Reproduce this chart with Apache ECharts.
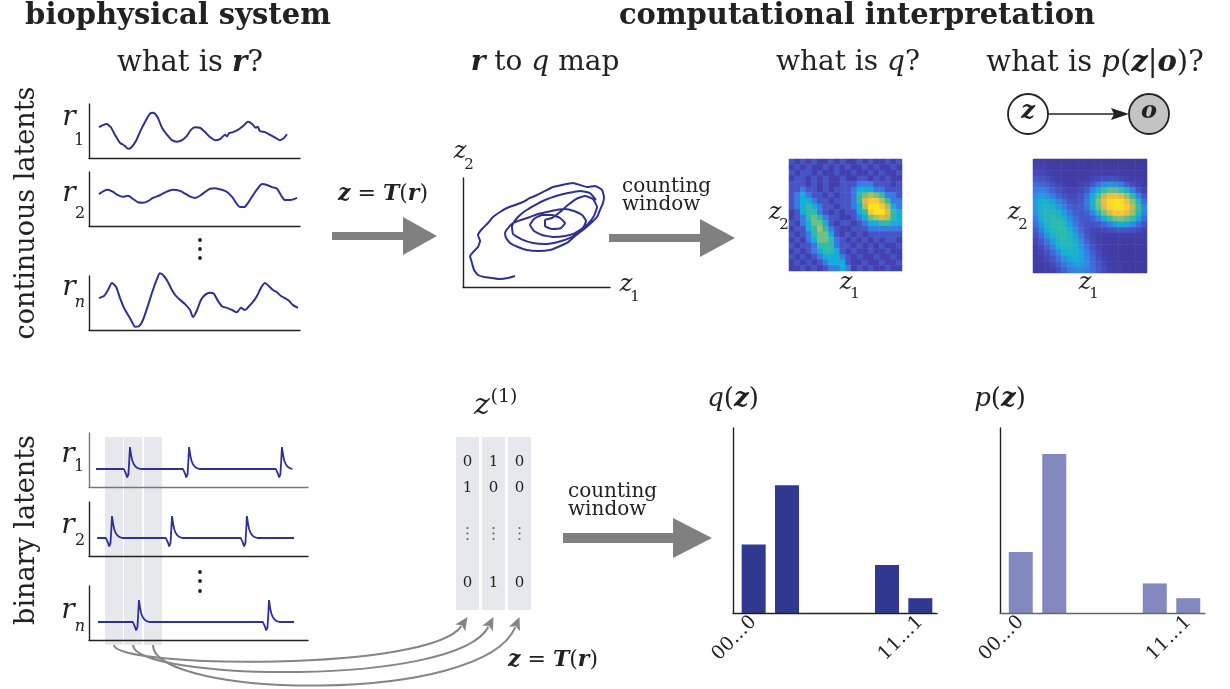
<!DOCTYPE html>
<html><head><meta charset="utf-8">
<script src="https://cdn.jsdelivr.net/npm/echarts@6/dist/echarts.min.js"></script>
<style>html,body{margin:0;padding:0;background:#fff}#c{width:1230px;height:689px}</style>
</head><body><div id="c"></div>
<script>
// ---------------- DATA ----------------
// continuous latents: time (0-100) vs activity (0-10)
const contR1 = [[4.7,5.7],[6.6,6.1],[8.5,6.3],[9.5,6.0],[10.4,5.7],[12.3,4.3],[14.7,2.8],[16.0,2.5],[17.1,2.2],[18.5,1.7],[19.9,1.9],[22.3,3.2],[24.6,5.2],[27.0,7.0],[28.9,8.2],[30.1,8.4],[31.3,8.2],[32.7,7.4],[34.6,5.6],[37.0,4.3],[39.3,3.3],[41.7,3.0],[44.1,3.3],[46.4,4.1],[48.3,5.2],[50.2,5.7],[52.6,5.6],[55.0,4.8],[57.3,3.9],[59.7,3.3],[62.1,3.5],[64.5,4.3],[65.4,4.0],[66.4,4.6],[68.2,4.8],[70.6,5.2],[73.0,5.9],[75.4,6.7],[77.3,6.3],[79.1,5.6],[80.0,5.8],[81.0,5.0],[83.4,4.8],[85.8,4.3],[88.6,3.7],[90.5,3.3],[92.4,3.7],[93.8,4.4]];
const contR2 = [[4.7,5.9],[7.1,6.5],[9.0,6.7],[11.4,6.3],[13.7,5.7],[16.1,5.4],[18.5,5.6],[20.9,5.0],[23.2,4.4],[25.6,4.3],[28.0,4.6],[30.3,5.2],[33.6,5.7],[36.5,6.3],[39.8,6.7],[43.1,6.5],[46.0,5.9],[48.3,5.4],[50.2,5.2],[52.6,5.6],[55.0,6.3],[57.3,6.9],[59.7,7.0],[63.0,6.7],[65.4,6.3],[67.8,5.4],[69.7,4.3],[71.6,3.5],[73.5,3.5],[75.4,4.3],[77.7,5.7],[80.1,7.0],[82.0,7.8],[84.4,7.6],[86.7,7.2],[89.1,6.9],[91.0,5.7],[92.9,4.8],[95.3,4.8],[98.6,5.2]];
const contRn = [[4.7,5.9],[7.1,6.3],[9.0,7.4],[10.9,8.7],[12.8,8.0],[14.7,5.9],[16.6,4.1],[18.5,2.8],[20.4,1.5],[21.8,0.6],[23.7,0.7],[25.6,1.9],[28.0,4.6],[30.3,7.4],[32.2,9.4],[33.6,10.5],[35.5,10.0],[37.4,8.9],[39.3,7.4],[41.2,6.3],[43.1,5.6],[45.5,4.8],[47.9,3.7],[49.3,2.4],[51.2,3.7],[53.1,5.6],[55.0,6.5],[57.3,6.9],[59.2,6.7],[61.1,5.4],[63.0,4.4],[65.4,4.1],[67.8,3.7],[70.1,3.3],[72.0,4.1],[73.9,3.7],[75.8,4.4],[77.7,5.2],[79.6,6.3],[81.5,7.8],[83.4,8.7],[85.3,8.1],[87.2,7.4],[89.1,7.0],[91.0,6.3],[92.9,5.9],[94.8,5.4],[96.7,4.6],[99.1,4.1]];
// r -> z trajectory (z1, z2 in 0-100 units)
const trajectory = [[35.4,10.1],[30.6,8.3],[25.2,7.3],[19.7,8.3],[14.3,9.2],[10.2,11.0],[7.5,15.6],[6.1,22.0],[4.8,28.4],[7.5,33.0],[10.2,36.7],[11.6,42.2],[10.2,47.7],[12.9,53.2],[17.0,58.7],[20.4,64.2],[25.2,68.8],[29.9,72.5],[35.4,75.2],[40.8,78.0],[45.6,81.7],[50.3,84.4],[55.8,88.1],[61.2,91.7],[67.3,93.6],[74.8,95.4],[79.6,93.6],[84.4,91.7],[89.8,92.7],[94.6,89.0],[95.9,82.6],[95.2,77.1],[93.2,70.6],[91.2,64.2],[87.1,58.7],[81.6,52.3],[76.2,46.8],[70.7,40.4],[64.6,36.7],[59.2,33.9],[51.0,33.0],[43.5,33.9],[37.4,36.7],[32.0,40.4],[29.3,45.0],[28.6,49.5],[30.6,54.1],[34.0,58.7],[39.5,61.5],[45.6,64.2],[51.0,67.0],[57.1,68.8],[63.3,70.6],[69.4,71.6],[75.5,69.7],[81.0,66.1],[83.7,60.6],[81.6,54.1],[76.2,49.5],[69.4,46.8],[61.2,45.9],[53.7,47.7],[48.3,51.4],[45.6,56.9],[48.3,62.4],[53.7,66.1],[60.5,66.1],[66.0,63.3],[69.4,58.7],[66.7,54.1],[60.5,53.2],[55.8,56.0],[55.8,61.5],[60.5,63.3],[66.0,68.8],[71.4,75.2],[76.9,80.7],[83.0,83.5],[88.4,80.7],[91.2,73.4],[89.1,65.1],[85.0,57.8],[79.6,51.4],[72.8,45.0],[64.6,41.3],[55.8,39.4],[47.6,40.4],[39.5,44.0],[34.0,48.6],[33.3,56.0],[36.7,63.3],[42.2,69.7],[49.0,75.2],[55.8,79.8],[63.3,83.5],[71.4,86.2],[79.6,88.1],[86.4,86.2],[90.5,79.8]];
// empirical q (20x20, rows top->bottom)
const qGrid = [
[2,1,2,1,2,1,1,2,1,2,1,1,2,1,2,1,1,2,1,2],
[1,2,1,2,1,1,2,1,2,1,2,1,1,2,1,2,1,1,2,1],
[2,1,2,2,1,2,1,1,2,1,1,2,1,1,2,1,2,1,1,2],
[1,2,2,1,2,1,2,1,1,2,1,1,2,2,1,2,1,2,1,1],
[2,2,2,1,2,1,2,1,1,2,2,2,3,3,3,2,2,2,1,2],
[2,2,3,2,2,1,2,1,2,2,2,3,4,4,4,3,3,2,2,2],
[2,3,4,3,2,2,1,2,1,2,2,3,5,6,7,6,5,3,3,2],
[2,3,4,4,3,2,2,1,2,2,2,3,5,8,9,9,7,5,3,3],
[2,3,4,5,4,3,2,2,1,2,2,3,4,7,10,10,9,7,4,3],
[1,2,4,5,5,3,2,1,2,1,2,2,4,5,9,10,10,8,5,4],
[1,2,3,5,6,5,3,2,2,1,1,2,3,4,6,7,8,7,5,4],
[2,1,3,4,6,6,4,2,1,2,2,1,2,3,4,4,5,5,4,4],
[1,2,2,4,5,7,5,3,2,1,1,2,2,2,3,3,3,3,3,3],
[2,1,2,3,5,6,6,4,2,1,2,1,2,1,2,2,2,2,2,2],
[1,2,1,3,4,6,6,5,3,2,1,2,1,2,1,2,1,2,2,1],
[2,1,2,2,3,5,5,5,3,2,2,1,2,1,2,1,2,1,1,2],
[1,2,1,2,3,4,5,5,4,2,1,2,1,1,2,1,1,2,1,1],
[2,1,2,1,2,3,4,4,4,3,2,1,2,1,1,2,1,1,2,1],
[1,2,1,2,1,2,3,4,4,4,2,1,1,2,1,1,2,1,1,2],
[1,1,2,1,2,1,2,3,3,4,3,1,2,1,2,1,1,2,1,1]];
// model posterior p(z|o) (20x20, rows top->bottom)
const pGrid = [
[0.9,0.7,0.5,0.3,0.2,0.2,0.1,0.1,0.1,0.1,0.1,0.1,0.1,0.1,0.1,0.1,0.1,0.1,0,0],
[1.2,1.0,0.7,0.5,0.3,0.2,0.2,0.1,0.1,0.2,0.2,0.3,0.3,0.3,0.3,0.2,0.2,0.1,0.1,0],
[1.6,1.4,1.1,0.8,0.5,0.4,0.3,0.3,0.3,0.4,0.6,0.7,0.8,0.8,0.7,0.6,0.4,0.3,0.2,0.1],
[2.1,1.9,1.6,1.2,0.8,0.6,0.6,0.5,0.5,0.8,1.2,1.5,1.7,1.8,1.7,1.4,1.1,0.8,0.5,0.3],
[2.6,2.5,2.2,1.8,1.3,1.0,0.8,0.8,1.1,1.4,2.1,2.8,3.3,3.5,3.4,3.0,2.3,1.7,1.1,0.6],
[3.0,3.1,2.9,2.4,1.8,1.4,1.2,1.2,1.5,2.1,3.2,4.2,5.2,5.8,5.7,5.1,4.2,3.1,2.0,1.2],
[3.4,3.6,3.5,3.0,2.4,1.9,1.6,1.5,1.9,2.8,4.0,5.6,7.3,8.3,8.6,8.0,6.6,4.8,3.2,2.0],
[3.7,4.1,4.1,3.7,3.2,2.6,2.0,1.8,2.1,3.0,4.4,6.3,8.3,9.6,10,9.8,8.5,6.5,4.5,2.8],
[3.7,4.3,4.5,4.3,3.7,3.1,2.4,2.1,2.2,2.8,4.1,5.9,7.9,9.5,10,10,9.1,7.2,5.1,3.3],
[3.5,4.2,4.7,4.7,4.3,3.6,2.9,2.3,2.1,2.4,3.2,4.7,6.3,7.9,8.9,9.0,8.2,6.8,4.8,3.2],
[3.1,4.0,4.6,4.9,4.7,4.1,3.3,2.6,2.1,2.0,2.4,3.2,4.1,5.2,6.0,6.3,5.8,5.0,3.8,2.6],
[2.7,3.6,4.4,4.9,5.0,4.6,3.8,2.9,2.3,1.9,1.8,2.0,2.5,3.1,3.6,3.9,3.8,3.3,2.6,1.9],
[2.2,3.1,4.0,4.7,5.0,4.9,4.3,3.4,2.5,1.9,1.4,1.3,1.4,1.7,1.9,2.0,2.0,1.8,1.5,1.1],
[1.7,2.6,3.5,4.3,4.8,4.9,4.5,3.8,2.9,2.0,1.5,1.0,0.8,0.8,0.8,0.9,0.9,0.9,0.7,0.5],
[1.3,2.1,2.9,3.8,4.5,4.8,4.7,4.1,3.3,2.4,1.6,1.0,0.6,0.4,0.4,0.4,0.4,0.4,0.4,0.3],
[1.0,1.6,2.4,3.2,4.0,4.5,4.6,4.3,3.6,2.8,2.0,1.2,0.7,0.4,0.3,0.2,0.2,0.2,0.2,0.1],
[0.7,1.2,1.8,2.6,3.4,4.1,4.3,4.2,3.8,3.1,2.3,1.5,0.9,0.5,0.3,0.1,0.1,0.1,0.1,0.1],
[0.5,0.8,1.4,2.0,2.8,3.5,3.9,4.1,3.8,3.2,2.5,1.8,1.1,0.7,0.4,0.2,0.1,0.1,0,0],
[0.3,0.6,1.0,1.5,2.2,2.9,3.4,3.7,3.6,3.3,2.6,2.0,1.3,0.8,0.4,0.2,0.1,0,0,0],
[0.2,0.4,0.7,1.1,1.7,2.3,2.9,3.2,3.3,3.1,2.7,2.1,1.5,1.0,0.6,0.3,0.1,0,0,0]];
// binary latents: spike waveform (time offset, voltage) and spike times
const spikeShape = [[-2.8,0],[-2.2,-0.1],[-1.7,-0.3],[-1.3,-0.47],[-1.0,-0.5],[-0.7,-0.3],[-0.35,0.4],[0,1.22],[0.25,1.0],[0.6,0.72],[1.1,0.46],[1.7,0.28],[2.5,0.14],[3.5,0.05],[4.8,0]];
const spikesR1 = [18.7, 45.7, 88.1];
const spikesR2 = [10.5, 37.9, 72.1];
const spikesRn = [22.8, 82.2];
const traceSpan = [[3.2, 92.7], [3.7, 93.6], [4.1, 93.6]];
const countWindows = [[7.3, 15.5], [16.0, 24.2], [25.1, 33.3]];
const zColumns = [['0','1','0'], ['1','0','1'], ['0','0','0']]; // first row, second row, last row per column
// histograms
const barPos = [0, 1, 4, 5];
const qVals = [0.37, 0.69, 0.26, 0.08];
const pVals = [0.33, 0.86, 0.16, 0.08];
const barTickValues = [0, 5];
const barTickLabels = ['00...0', '11...1'];

// ---------------- STYLE ----------------
const F = "'DejaVu Serif', 'Liberation Serif', serif";
const INK = '#222';
const BLUE = '#2e3192';
const GREY = '#858585';
const PARULA = ['#3d3a9e','#423fae','#4654c6','#3a7ae4','#15aed8','#2fbaaa','#6cc183','#acc05c','#e6b84a','#fbc73a','#f8e31f'];

function train(spikes, span) {
  const pts = [[span[0], 0]];
  spikes.forEach(t => spikeShape.forEach(s => { if (t + s[0] <= span[1] + 0.5) pts.push([t + s[0], s[1]]); }));
  if (pts[pts.length - 1][0] < span[1]) pts.push([span[1], 0]);
  return pts;
}
function cells(grid) { const out = []; grid.forEach((row, r) => row.forEach((v, c) => out.push([c, r, v]))); return out; }

const grids = [
  {left:89, top:104, width:211, height:54},
  {left:89, top:172, width:211, height:54},
  {left:89, top:276, width:211, height:54},
  {left:463, top:178, width:147, height:109},
  {left:789, top:159, width:113, height:112},
  {left:1033, top:159, width:114, height:114},
  {left:89, top:433, width:219, height:54},
  {left:89, top:502, width:219, height:54},
  {left:89, top:586, width:219, height:54},
  {left:89, top:437, width:219, height:208},
  {left:733, top:428, width:204, height:185},
  {left:1000, top:428, width:205, height:185}
].map(g => Object.assign({outerBoundsMode:'none', containLabel:false}, g));

function vAxis(gi, min, max, color, extra) {
  return Object.assign({type:'value', gridIndex:gi, min, max, z:5,
    axisLine: color ? {show:true, onZero:false, lineStyle:{color, width:1.4}} : {show:false},
    axisTick:{show:false}, axisLabel:{show:false}, splitLine:{show:false}}, extra || {});
}
const idx20 = Array.from({length:20}, (_, i) => i);
const catAxis = (gi, inv) => ({type:'category', gridIndex:gi, data:idx20, show:false, inverse:!!inv});
const barLabel = {show:true, customValues:barTickValues, rotate:45, margin:6, fontFamily:F, fontSize:19, color:INK,
  formatter: v => barTickLabels[barTickValues.indexOf(Math.round(v))] || ''};

const xAxes = [vAxis(0,0,100,INK), vAxis(1,0,100,INK), vAxis(2,0,100,INK), vAxis(3,0,100,INK),
  catAxis(4), catAxis(5), vAxis(6,0,100,'#777'), vAxis(7,0,100,INK), vAxis(8,0,100,INK), vAxis(9,0,100,null),
  vAxis(10,-0.62,5.5,INK,{axisLabel:barLabel}), vAxis(11,-0.62,5.5,'#666',{axisLabel:barLabel})];
const yAxes = [vAxis(0,0,10,INK), vAxis(1,0,10,INK), vAxis(2,0,10,INK), vAxis(3,0,100,INK),
  catAxis(4,true), catAxis(5,true), vAxis(6,-1,2,'#777'), vAxis(7,-1,2,INK), vAxis(8,-1,2,INK), vAxis(9,0,1,null),
  vAxis(10,0,1,INK), vAxis(11,0,1,INK)];

const lineS = (i, data, w, smooth) => ({type:'line', xAxisIndex:i, yAxisIndex:i, data, symbol:'none', smooth:smooth,
  lineStyle:{color:BLUE, width:w}, clip:false, z:3, silent:true});

const series = [
  lineS(0, contR1, 2, 0.25), lineS(1, contR2, 2, 0.25), lineS(2, contRn, 2, 0.25),
  lineS(3, trajectory, 2, 0.12),
  {type:'heatmap', xAxisIndex:4, yAxisIndex:4, data:cells(qGrid), itemStyle:{borderWidth:0}, silent:true},
  {type:'heatmap', xAxisIndex:5, yAxisIndex:5, data:cells(pGrid), itemStyle:{borderWidth:0}, silent:true},
  {type:'custom', xAxisIndex:9, yAxisIndex:9, data:countWindows, z:1, silent:true,
    renderItem:(p, api) => { const a = api.coord([api.value(0), 1]); const b = api.coord([api.value(1), 0]);
      return {type:'rect', shape:{x:a[0], y:a[1], width:b[0]-a[0], height:b[1]-a[1]}, style:{fill:'#e7e7ee'}}; }},
  lineS(6, train(spikesR1, traceSpan[0]), 1.8, false),
  lineS(7, train(spikesR2, traceSpan[1]), 1.8, false),
  lineS(8, train(spikesRn, traceSpan[2]), 1.8, false),
  {type:'bar', xAxisIndex:10, yAxisIndex:10, data:barPos.map((x, i) => [x, qVals[i]]), barWidth:24, itemStyle:{color:'#30388f'}, silent:true},
  {type:'bar', xAxisIndex:11, yAxisIndex:11, data:barPos.map((x, i) => [x, pVals[i]]), barWidth:24, itemStyle:{color:'#8389bf'}, silent:true}
];

const chart = echarts.init(document.getElementById('c'), null, {renderer:'canvas'});
chart.setOption({animation:false, backgroundColor:'#fff', grid:grids, xAxis:xAxes, yAxis:yAxes, series,
  visualMap:[{type:'continuous', show:false, min:0, max:10, seriesIndex:[4,5], inRange:{color:PARULA}}]});

// ---------------- ANNOTATIONS ----------------
function rs(size) { return {
  n:{fontFamily:F, fontSize:size, fill:INK},
  i:{fontFamily:F, fontSize:size, fontStyle:'italic', fill:INK},
  bi:{fontFamily:F, fontSize:size, fontStyle:'italic', fontWeight:'bold', fill:INK},
  b:{fontFamily:F, fontSize:size, fontWeight:'bold', fill:INK}}; }
function T(x, y, parts, size, o) { o = o || {};
  return {type:'text', x, y, rotation:o.rot || 0, z:20, silent:true, style:{
    text: parts.map(p => '{' + p[1] + '|' + p[0] + '}').join(''), rich:rs(size),
    align:o.align || 'center', verticalAlign:'middle', fontFamily:F, fontSize:size, fill:o.fill || INK}}; }
function arrow(x0, xb, xt, y, sh, hh) {
  return {type:'polygon', z:15, silent:true, shape:{points:[[x0,y-sh],[xb,y-sh],[xb,y-hh],[xt,y],[xb,y+hh],[xb,y+sh],[x0,y+sh]]}, style:{fill:'#808080'}}; }
const dot = (x, y, r, c) => ({type:'circle', z:15, silent:true, shape:{cx:x, cy:y, r}, style:{fill:c || INK}});

const g = [];
g.push(T(178, 16, [['biophysical system','b']], 29));
g.push(T(857, 16, [['computational interpretation','b']], 29));
g.push(T(190, 63, [['what is ','n'],['r','bi'],['?','n']], 29));
g.push(T(545, 63, [['r','bi'],[' to ','n'],['q','i'],[' map','n']], 28));
g.push(T(848, 63, [['what is ','n'],['q','i'],['?','n']], 28));
g.push(T(1095, 63, [['what is ','n'],['p','i'],['(','n'],['z','bi'],['|','n'],['o','bi'],[')?','n']], 29));
g.push(T(27, 213, [['continuous latents','n']], 27, {rot:Math.PI/2}));
g.push(T(27, 530, [['binary latents','n']], 27, {rot:Math.PI/2}));
// r labels
[[69,118,79,141,'1'],[69,194,80,214,'2'],[69,288,80,303,'n'],[68,455,79,467,'1'],[68,526,80,541,'2'],[68,611,80,627,'n']]
  .forEach(a => { g.push(T(a[0], a[1], [['r','i']], 28)); g.push(T(a[2], a[3], [[a[4], a[4]==='n' ? 'i' : 'n']], 16)); });
// z labels
[[460,152,469,165,'2'],[626,285,635,297,'1'],[775,213,784,225,'2'],[846,283,855,294,'1'],[1014,213,1023,225,'2'],[1085,283,1094,294,'1']]
  .forEach(a => { g.push(T(a[0], a[1], [['z','i']], 24)); g.push(T(a[2], a[3], [[a[4],'n']], 15)); });
// vertical ellipses
[240, 249, 258, 572, 581, 591].forEach(y => g.push(dot(200, y, 1.9)));
// z = T(r)
g.push(T(383, 194, [['z','bi'],[' = ','n'],['T','bi'],['(','n'],['r','bi'],[')','n']], 22));
g.push(T(553, 660, [['z','bi'],[' = ','n'],['T','bi'],['(','n'],['r','bi'],[')','n']], 22));
// counting window labels
g.push(T(622, 187, [['counting','n']], 20, {align:'left'}));
g.push(T(622, 205, [['window','n']], 20, {align:'left'}));
g.push(T(568, 492, [['counting','n']], 20, {align:'left'}));
g.push(T(568, 510, [['window','n']], 20, {align:'left'}));
// big arrows
g.push(arrow(332, 403, 437, 236, 4, 19));
g.push(arrow(609, 700, 735, 238, 4, 19));
g.push(arrow(563, 673, 712, 538, 5, 20));
// graphical model z -> o
g.push({type:'circle', z:15, silent:true, shape:{cx:1028, cy:114, r:20}, style:{fill:'#fff', stroke:INK, lineWidth:1.8}});
g.push({type:'circle', z:15, silent:true, shape:{cx:1149, cy:114, r:20}, style:{fill:'#c4c4c4', stroke:INK, lineWidth:1.8}});
g.push(T(1028, 112, [['z','bi']], 24));
g.push(T(1149, 112, [['o','bi']], 24));
g.push({type:'line', z:15, silent:true, shape:{x1:1048, y1:114, x2:1115, y2:114}, style:{stroke:INK, lineWidth:1.5}});
g.push({type:'polygon', z:15, silent:true, shape:{points:[[1129,114],[1111,108],[1114,114],[1111,120]]}, style:{fill:INK}});
// histogram titles
g.push(T(733, 399, [['q','i'],['(','n'],['z','bi'],[')','n']], 26));
g.push(T(1000, 399, [['p','i'],['(','n'],['z','bi'],[')','n']], 26));
// z^(1) columns
g.push(T(482, 406, [['z','i']], 30));
g.push(T(504, 397, [['(1)','n']], 19));
const colLeft = 456, colW = 23, colGap = 3, colTop = 437, colBot = 610;
const tips = [];
zColumns.forEach((col, i) => {
  const x = colLeft + i * (colW + colGap), cx = x + colW / 2;
  g.push({type:'rect', z:1, silent:true, shape:{x, y:colTop, width:colW, height:colBot - colTop}, style:{fill:'#e7e7ee'}});
  g.push(T(cx, 462, [[col[0],'n']], 15, {fill:'#555'}));
  g.push(T(cx, 488, [[col[1],'n']], 15, {fill:'#555'}));
  g.push(T(cx, 583, [[col[2],'n']], 15, {fill:'#555'}));
  [528, 533.5, 539].forEach(y => g.push(dot(cx, y, 1.1, '#666')));
  tips.push([cx, 617]);
});
// curved arrows from counting windows to z columns
const drop = [[23, 55], [35, 71], [53, 89]];
countWindows.forEach((w, i) => {
  const s = chart.convertToPixel({xAxisIndex:9, yAxisIndex:9}, [(w[0] + w[1]) / 2, 0]);
  const tip = tips[i];
  const c2 = [tip[0] - 37, tip[1] + drop[i][1]];
  const dx = tip[0] - c2[0], dy = tip[1] - c2[1], L = Math.hypot(dx, dy), ux = dx / L, uy = dy / L;
  const hl = 13, hw = 6;
  const base = [tip[0] - ux * hl, tip[1] - uy * hl];
  g.push({type:'bezierCurve', z:14, silent:true, shape:{x1:s[0], y1:s[1], cpx1:s[0], cpy1:s[1] + drop[i][0], cpx2:c2[0], cpy2:c2[1], x2:base[0] + ux * 2, y2:base[1] + uy * 2},
    style:{stroke:GREY, lineWidth:2, fill:null}});
  g.push({type:'polygon', z:15, silent:true, shape:{points:[tip, [base[0] - uy * hw, base[1] + ux * hw], [base[0] + ux * 3, base[1] + uy * 3], [base[0] + uy * hw, base[1] - ux * hw]]}, style:{fill:GREY}});
});
chart.setOption({graphic:{elements:g}});
</script></body></html>
